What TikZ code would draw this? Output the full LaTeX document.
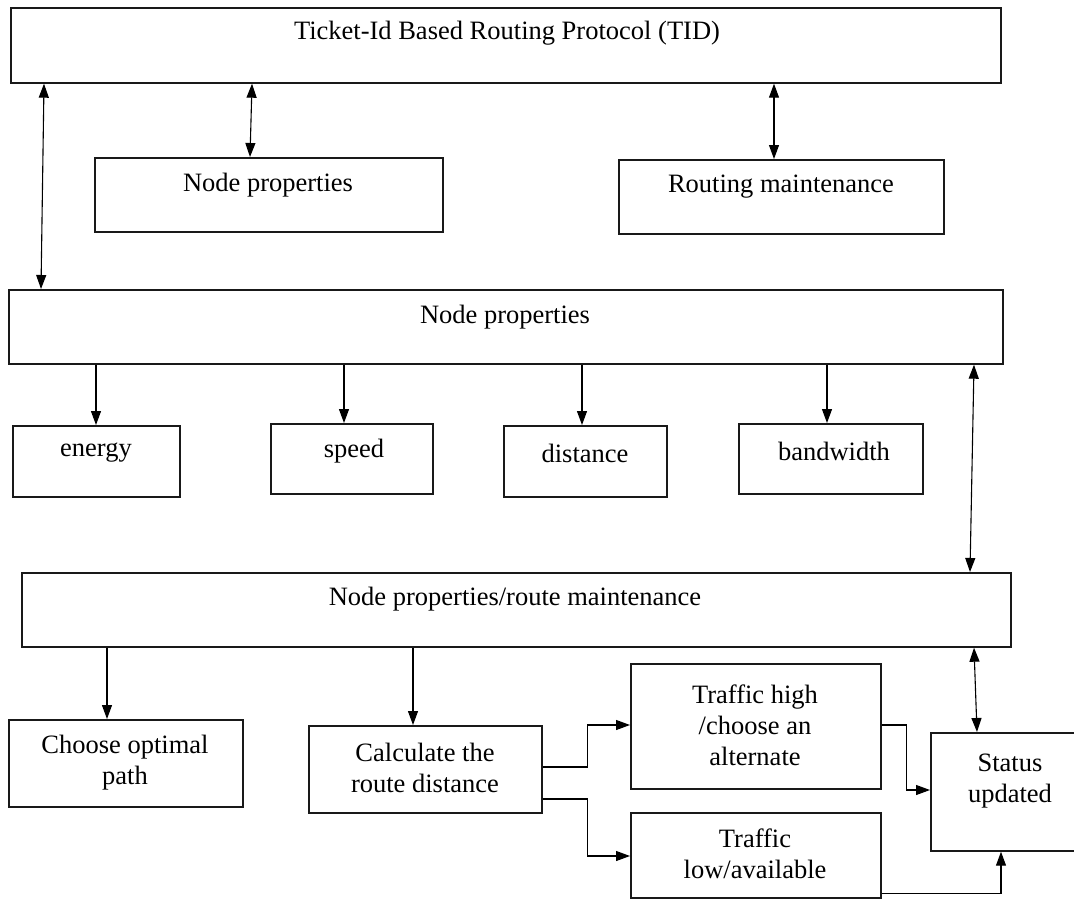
\documentclass[tikz,border=0pt]{standalone}
\usepackage{fontspec}
\setmainfont{Liberation Serif}
\usetikzlibrary{arrows.meta,calc}
\begin{document}
\begin{tikzpicture}[x=1pt,y=-1pt,
  box/.style={draw=black!90, line width=1.7pt, fill=white, inner sep=0pt, anchor=north west},
  txt/.style={font=\fontsize{26.5}{31}\selectfont, align=center, inner sep=0pt},
  conn/.style={line width=1.1pt, -{Triangle[length=14pt,width=10pt]}},
  dbl/.style={line width=1.1pt, {Triangle[length=14pt,width=10pt]}-{Triangle[length=14pt,width=10pt]}}]
\clip (0,0) rectangle (1074,900);
\fill[white] (0,0) rectangle (1074,900);
% boxes
\node[box, minimum width=990pt, minimum height=75pt] (top) at (10,7) {};
\node[box, minimum width=348pt, minimum height=74pt] (np1) at (94,157) {};
\node[box, minimum width=325pt, minimum height=74pt] (rm) at (618,159) {};
\node[box, minimum width=994pt, minimum height=74pt] (np2) at (8,289) {};
\node[box, minimum width=167pt, minimum height=71pt] (energy) at (12,425) {};
\node[box, minimum width=162pt, minimum height=70pt] (speed) at (270,423) {};
\node[box, minimum width=163pt, minimum height=71pt] (distance) at (503,425) {};
\node[box, minimum width=184pt, minimum height=70pt] (bw) at (738,423) {};
\node[box, minimum width=989pt, minimum height=74pt] (np3) at (21,572) {};
\node[box, minimum width=234pt, minimum height=87pt] (cop) at (8,719) {};
\node[box, minimum width=233pt, minimum height=87pt] (calc) at (308,725) {};
\node[box, minimum width=250pt, minimum height=125pt] (th) at (630,663) {};
\node[box, minimum width=250pt, minimum height=85pt] (tl) at (630,812) {};
\node[box, minimum width=160pt, minimum height=118pt] (st) at (930,732) {};
% texts
\node[txt] (ttop) at (507,33) {Ticket-Id Based Routing Protocol (TID)};
\node[txt] (tnp1) at (268,185) {Node properties};
\node[txt] (trm) at (781,187) {Routing maintenance};
\node[txt] (tnp2) at (505,317) {Node properties};
\node[txt] (tenergy) at (96,453) {energy};
\node[txt] (tspeed) at (354,451) {speed};
\node[txt] (tdistance) at (585,453) {distance};
\node[txt] (tbw) at (834,451) {bandwidth};
\node[txt] (tnp3) at (515,599) {Node properties/route maintenance};
\node[txt] (tcop) at (125,763) {Choose optimal\\path};
\node[txt] (tcalc) at (425,768) {Calculate the\\route distance};
\node[txt] (tth) at (755,725) {Traffic high\\/choose an\\alternate};
\node[txt] (ttl) at (755,854) {Traffic\\low/available};
\node[txt] (tst) at (1010,781) {Status\\updated};
% connectors
\draw[dbl] ($(top.south west)+(34,0)$) -- ($(np2.north west)+(33,0)$);
\draw[dbl] ($(top.south west)+(242,0)$) -- ($(np1.north west)+(156,0)$);
\draw[dbl] ($(top.south west)+(764,0)$) -- ($(rm.north west)+(156,0)$);
\draw[conn] ($(np2.south west)+(88,0)$) -- ($(energy.north west)+(84,0)$);
\draw[conn] ($(np2.south west)+(336,0)$) -- ($(speed.north west)+(74,0)$);
\draw[conn] ($(np2.south west)+(574,0)$) -- ($(distance.north west)+(79,0)$);
\draw[conn] ($(np2.south west)+(819,0)$) -- ($(bw.north west)+(89,0)$);
\draw[dbl] ($(np2.south west)+(966,0)$) -- ($(np3.north west)+(949,0)$);
\draw[conn] ($(np3.south west)+(86,0)$) -- ($(cop.north west)+(99,0)$);
\draw[conn] ($(np3.south west)+(392,0)$) -- ($(calc.north west)+(105,0)$);
\draw[dbl] ($(np3.south west)+(953,0)$) -- ($(st.north west)+(47,0)$);
\draw[conn] ($(calc.north east)+(0,42)$) -- ++(45,0) |- ($(th.north west)+(0,62)$);
\draw[conn] ($(calc.north east)+(0,74)$) -- ++(45,0) |- ($(tl.north west)+(0,44)$);
\draw[conn] ($(th.north east)+(0,62)$) -- ++(25,0) |- ($(st.north west)+(0,58)$);
\draw[conn] ($(tl.south east)+(0,-5)$) -| ($(st.south west)+(71,0)$);
\end{tikzpicture}
\end{document}
